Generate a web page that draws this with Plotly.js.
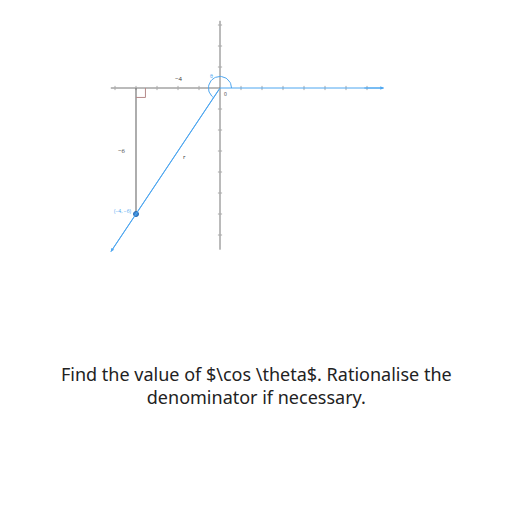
<!DOCTYPE html>
<html>
<head>
<script src="https://cdn.plot.ly/plotly-3.0.1.min.js"></script>
<style>body{margin:0}#myDiv{width:512px;height:512px}</style>
</head>
<body>
<div id="myDiv"></div>
<script>
// point on the terminal side
const pointX = -4;
const pointY = -6;
// how far the drawn rays and axes reach
const rayEnd = [-5.2, -7.8];
const posAxisEnd = 7.8;
const axisXMin = -5.2;
const axisYMin = -7.7;
const axisYMax = 3.2;
const tickXs = [-5, -4, -3, -2, -1, 1, 2, 3, 4, 5, 6, 7];
const tickYs = [-7, -6, -5, -4, -3, -2, -1, 1, 2, 3];

const blue = '#4da6f0';
const grey = '#777';

let traces = [];
// axes
traces.push({x: [axisXMin, 0], y: [0, 0], mode: 'lines', line: {color: grey, width: 1}});
traces.push({x: [0, 0], y: [axisYMin, axisYMax], mode: 'lines', line: {color: grey, width: 1}});
traces.push({x: tickXs, y: tickXs.map(() => 0), mode: 'markers', marker: {symbol: 'line-ns', size: 3, line: {color: '#aaa', width: 1}}});
traces.push({x: tickYs.map(() => 0), y: tickYs, mode: 'markers', marker: {symbol: 'line-ew', size: 3, line: {color: '#aaa', width: 1}}});
// vertical drop
traces.push({x: [pointX, pointX], y: [0, pointY], mode: 'lines', line: {color: grey, width: 1.2}});
// initial side
traces.push({x: [0, posAxisEnd], y: [0, 0], mode: 'lines', line: {color: blue, width: 1}});
// terminal side
traces.push({x: [0, rayEnd[0]], y: [0, rayEnd[1]], mode: 'lines', line: {color: blue, width: 1}});
traces.push({x: [pointX], y: [pointY], mode: 'markers', marker: {color: '#3a8ad8', size: 5, line: {color: '#2a6ab0', width: 1}}});

// angle arc
let ang = Math.atan2(pointY, pointX) + 2 * Math.PI;
let r = 0.55, n = 40;
let ax = [], ay = [];
for (let i = 0; i <= n; i++) {
    let t = ang * i / n;
    ax.push(r * Math.cos(t));
    ay.push(r * Math.sin(t));
}
traces.push({x: ax, y: ay, mode: 'lines', line: {color: blue, width: 1}});

const s = 21;
const layout = {
    width: 512, height: 512,
    margin: {l: 0, r: 0, t: 0, b: 0},
    showlegend: false,
    plot_bgcolor: 'white', paper_bgcolor: 'white',
    xaxis: {range: [-220 / s, 292 / s], visible: false, fixedrange: true},
    yaxis: {range: [-424 / s, 88 / s], visible: false, fixedrange: true},
    annotations: [
        {x: rayEnd[0], y: rayEnd[1], ax: 0, ay: 0, axref: 'x', ayref: 'y', xref: 'x', yref: 'y',
         showarrow: true, arrowhead: 2, arrowsize: 0.7, arrowwidth: 1, arrowcolor: blue, text: ''},
        {x: pointX / 2, y: 0.45, text: '−4', showarrow: false, font: {size: 6, color: '#333'}},
        {x: pointX - 0.7, y: pointY / 2, text: '−6', showarrow: false, font: {size: 6, color: '#333'}},
        {x: pointX / 2 + 0.3, y: pointY / 2 - 0.3, text: 'r', showarrow: false, font: {size: 6, color: '#333'}},
        {x: pointX - 0.6, y: pointY + 0.15, text: '(−4, −6)', showarrow: false, font: {size: 5, color: blue}},
        {x: -0.4, y: 0.55, text: 'θ', showarrow: false, font: {size: 5, color: blue}},
        {x: 0.25, y: -0.3, text: '0', showarrow: false, font: {size: 5, color: '#333'}},
        {xref: 'paper', yref: 'paper', x: 0.5, y: 1 - 411 / 512, showarrow: false,
         text: 'Find the value of $\\cos \\theta$. Rationalise the<br>denominator if necessary.',
         font: {family: 'Noto Sans, Open Sans', size: 18, color: '#222'}}
    ]
};
// arrowhead on positive x axis
layout.annotations.push({x: posAxisEnd, y: 0, ax: posAxisEnd - 1, ay: 0, axref: 'x', ayref: 'y', xref: 'x', yref: 'y',
    showarrow: true, arrowhead: 2, arrowsize: 0.7, arrowwidth: 1, arrowcolor: blue, text: ''});
// right angle box
layout.shapes = [{type: 'path', path: `M ${pointX} -0.45 L ${pointX + 0.45} -0.45 L ${pointX + 0.45} 0`,
    line: {color: '#b58a8a', width: 1}}];
Plotly.newPlot('myDiv', traces, layout, {staticPlot: true});
</script>
</body>
</html>
